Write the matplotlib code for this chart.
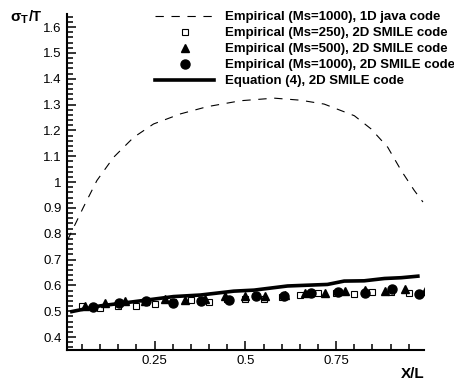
import numpy as np
import matplotlib
matplotlib.use("Agg")
from matplotlib import pyplot
from matplotlib.ticker import MultipleLocator, FixedLocator

pyplot.rcParams['font.family'] = ['Liberation Sans', 'DejaVu Sans']
pyplot.rcParams['lines.scale_dashes'] = False

# 1D java code, Ms=1000
x_java = [0.01, 0.054, 0.091, 0.137, 0.192, 0.247, 0.321, 0.395, 0.487, 0.579,
          0.652, 0.717, 0.80, 0.846, 0.892, 0.929, 0.965, 0.989]
y_java = [0.775, 0.903, 1.006, 1.096, 1.173, 1.225, 1.264, 1.292, 1.315, 1.325,
          1.317, 1.302, 1.257, 1.206, 1.135, 1.045, 0.968, 0.923]

# 2D SMILE, Ms=250
x_250 = [0.05, 0.10, 0.15, 0.20, 0.25, 0.30, 0.35, 0.40, 0.45, 0.50,
         0.55, 0.60, 0.65, 0.70, 0.75, 0.80, 0.85, 0.90, 0.95]
y_250 = [0.521, 0.513, 0.521, 0.521, 0.529, 0.535, 0.544, 0.536, 0.546, 0.548,
         0.547, 0.555, 0.564, 0.570, 0.570, 0.567, 0.574, 0.575, 0.570]

# 2D SMILE, Ms=500
x_500 = [0.059, 0.114, 0.169, 0.224, 0.279, 0.334, 0.389, 0.444, 0.499,
         0.554, 0.609, 0.664, 0.719, 0.774, 0.829, 0.884, 0.939, 0.994]
y_500 = [0.522, 0.531, 0.541, 0.540, 0.549, 0.544, 0.546, 0.559, 0.560,
         0.560, 0.562, 0.572, 0.572, 0.580, 0.582, 0.580, 0.586, 0.580]

# 2D SMILE, Ms=1000
x_1000 = [0.079, 0.151, 0.226, 0.302, 0.378, 0.454, 0.529, 0.605, 0.680,
          0.754, 0.830, 0.904, 0.977]
y_1000 = [0.516, 0.533, 0.539, 0.534, 0.540, 0.545, 0.558, 0.561, 0.570,
          0.576, 0.571, 0.585, 0.567]

# Equation (4)
x_eq = [0.022, 0.100, 0.192, 0.302, 0.376, 0.468, 0.524, 0.616, 0.726,
        0.772, 0.827, 0.883, 0.929, 0.975]
y_eq = [0.499, 0.521, 0.537, 0.557, 0.563, 0.578, 0.582, 0.598, 0.604,
        0.617, 0.618, 0.627, 0.630, 0.636]

labels = ["Empirical (Ms=1000), 1D java code",
          "Empirical (Ms=250), 2D SMILE code",
          "Empirical (Ms=500), 2D SMILE code",
          "Empirical (Ms=1000), 2D SMILE code",
          "Equation (4), 2D SMILE code"]

fig = pyplot.figure(figsize=(4.54, 3.83), dpi=100)
ax = fig.add_axes([0.147, 0.086, 0.787, 0.877])

ax.plot(x_java, y_java, color="black", lw=0.8, dashes=(6, 5.5), label=labels[0])
ax.plot(x_250, y_250, ls="none", marker="s", ms=4.2, mfc="white", mec="black",
        mew=0.8, label=labels[1])
ax.plot(x_500, y_500, ls="none", marker="^", ms=5.5, color="black", label=labels[2])
ax.plot(x_1000, y_1000, ls="none", marker="o", ms=6.5, color="black", label=labels[3])
ax.plot(x_eq, y_eq, color="black", lw=2.6, label=labels[4])

ax.set_xlim(0.008, 0.992)
ax.set_ylim(0.35, 1.65)
ax.xaxis.set_major_locator(FixedLocator([0.25, 0.5, 0.75]))
ax.set_xticklabels(["0.25", "0.5", "0.75"])
ax.xaxis.set_minor_locator(MultipleLocator(0.05))
ax.yaxis.set_minor_locator(MultipleLocator(0.02))
ax.set_yticks(np.round(np.arange(0.4, 1.61, 0.1), 1))
ax.set_yticklabels(["0.4", "0.5", "0.6", "0.7", "0.8", "0.9", "1",
                    "1.1", "1.2", "1.3", "1.4", "1.5", "1.6"])

ax.spines['top'].set_visible(False)
ax.spines['right'].set_visible(False)
ax.spines['left'].set_linewidth(1.5)
ax.spines['bottom'].set_linewidth(1.5)
ax.tick_params(which='both', direction='in', width=1.1, labelsize=9.5)
ax.tick_params(which='major', length=6.5, pad=3.5)
ax.tick_params(which='minor', length=4)

ax.legend(loc='upper right', bbox_to_anchor=(1.0 + 10 / 454, 1.0 - 2 / 383),
          bbox_transform=fig.transFigure,
          frameon=False, handlelength=4.4, handletextpad=0.85, labelspacing=0.28,
          borderaxespad=0.3, prop={'weight': 'bold', 'size': 9.5})

fig.text(0.022, 0.955, r"$\mathregular{\sigma}$", fontsize=11, fontweight='bold',
         va='center', ha='left')
fig.text(0.046, 0.947, "T", fontsize=8, fontweight='bold', va='center', ha='left')
fig.text(0.064, 0.955, "/T", fontsize=10.5, fontweight='bold', va='center', ha='left')
fig.text(0.934, 0.006, "X/L", fontsize=11, fontweight='bold', ha='right', va='bottom')

fig.savefig("out.png", dpi=100)
